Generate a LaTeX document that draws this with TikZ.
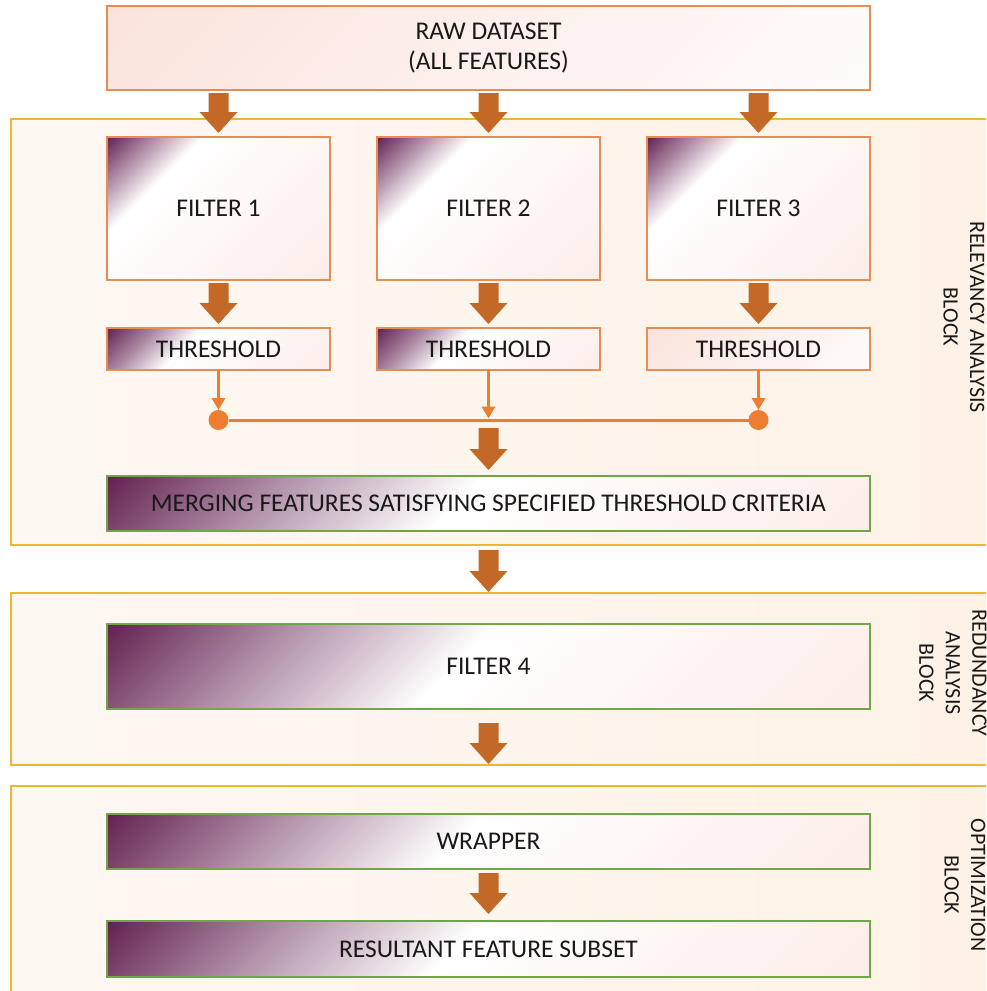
\documentclass[tikz,border=0pt]{standalone}
\usepackage{fontspec}
\setmainfont{Carlito}
\usetikzlibrary{arrows.meta,calc}

\definecolor{plum}{RGB}{100,34,82}
\definecolor{blushstart}{RGB}{251,227,220}
\definecolor{blushend}{RGB}{252,237,233}
\definecolor{edgeorange}{RGB}{232,140,86}
\definecolor{edgegreen}{RGB}{112,165,72}
\definecolor{edgegold}{RGB}{238,183,48}
\definecolor{arrowbrown}{RGB}{196,104,40}
\definecolor{linkorange}{RGB}{237,125,49}
\definecolor{panelleft}{RGB}{254,248,243}
\definecolor{panelright}{RGB}{254,242,230}
\definecolor{inktext}{RGB}{25,25,25}

% Diagonal fills: positions 37.5bp..62.5bp run from the top-left
% corner of a box to its bottom-right corner (see \shadedbox).
\pgfdeclarehorizontalshading{rawfill}{100bp}{color(0bp)=(blushstart); color(37.5bp)=(blushstart); color(62.5bp)=(white!85!blushend); color(100bp)=(white!85!blushend)}
\pgfdeclarehorizontalshading{filterfill}{100bp}{color(0bp)=(plum); color(37.5bp)=(plum); color(40.5bp)=(plum!55!white); color(44bp)=(white); color(62.5bp)=(blushend); color(100bp)=(blushend)}
\pgfdeclarehorizontalshading{thresholdfill}{100bp}{color(0bp)=(plum); color(37.5bp)=(plum); color(42bp)=(plum!55!white); color(46.5bp)=(white); color(62.5bp)=(blushend); color(100bp)=(blushend)}
\pgfdeclarehorizontalshading{stagefill}{100bp}{color(0bp)=(plum); color(37.5bp)=(plum); color(43bp)=(plum!50!white); color(49bp)=(white); color(62.5bp)=(blushend); color(100bp)=(blushend)}

\tikzset{
  boxtext/.style={font=\fontsize{25.5}{30}\selectfont, text=inktext, align=center,
                  inner sep=0pt, outer sep=0pt},
  orangebox/.style={boxtext, draw=edgeorange, line width=1.5pt},
  greenbox/.style={boxtext, draw=edgegreen, line width=1.5pt},
  panel/.style={draw=edgegold, line width=2pt, left color=panelleft,
                right color=panelright, inner sep=0pt, outer sep=0pt},
  sidelabel/.style={font=\fontsize{22}{26.5}\selectfont, text=inktext,
                    align=center, rotate=-90},
  link/.style={draw=linkorange, line width=3pt},
  linkarrow/.style={link, -{Triangle[width=13pt,length=12pt]}},
  joint/.style={circle, fill=linkorange, minimum size=20pt, inner sep=0pt,
                outer sep=0pt},
}

% #1 shading, #2 node style, #3 name, #4-#7 corners x1,y1,x2,y2, #8 text
\newcommand\shadedbox[8]{%
  \pgfmathsetmacro\sbcx{(#4+#6)/2}%
  \pgfmathsetmacro\sbcy{(#5+#7)/2}%
  \pgfmathsetmacro\sbw{#6-#4}%
  \pgfmathsetmacro\sbh{#7-#5}%
  \pgfmathsetmacro\sbhalf{(\sbw+\sbh)/sqrt(2)}%
  \begin{scope}
    \clip (#4,#5) rectangle (#6,#7);
    \shade[shading=#1, shading angle=-45]
      (\sbcx-\sbhalf,\sbcy-\sbhalf) rectangle (\sbcx+\sbhalf,\sbcy+\sbhalf);
  \end{scope}
  \node[#2, minimum width=\sbw pt, minimum height=\sbh pt] (#3) at (\sbcx,\sbcy) {#8};
}

% block arrow: #1 start point, #2 end point, #3 gap below start, #4 gap above end
\newcommand\blockarrow[4]{%
  \fill[arrowbrown]
    ($#1+(-10,#3)$) -- ($#1+(10,#3)$) -- ($#2+(10,-#4-21)$) -- ($#2+(19,-#4-21)$)
    -- ($#2+(0,-#4)$) -- ($#2+(-19,-#4-21)$) -- ($#2+(-10,-#4-21)$) -- cycle;
}

\begin{document}
\begin{tikzpicture}[x=1pt,y=-1pt]
  \useasboundingbox (0,0) rectangle (986,991);
  \fill[white] (0,0) rectangle (986,991);
  \clip (0,0) rectangle (986,991);

  % the three stage panels
  \node[panel, minimum width=992pt, minimum height=426pt] (relevancy) at (507,332) {};
  \node[panel, minimum width=992pt, minimum height=172pt] (redundancy) at (507,679) {};
  \node[panel, minimum width=992pt, minimum height=220pt] (optimization) at (507,896) {};

  \node[sidelabel] (relevancylabel) at (964,317) {RELEVANCY ANALYSIS\\BLOCK};
  \node[sidelabel] (redundancylabel) at (953,673) {REDUNDANCY\\ANALYSIS\\BLOCK};
  \node[sidelabel] (optimizationlabel) at (965,885) {OPTIMIZATION\\BLOCK};

  % boxes
  \shadedbox{rawfill}{orangebox}{raw}{107}{6}{870}{90}{RAW DATASET\\(ALL FEATURES)}
  \shadedbox{filterfill}{orangebox}{f1}{107}{137}{330}{280}{FILTER 1}
  \shadedbox{filterfill}{orangebox}{f2}{377}{137}{600}{280}{FILTER 2}
  \shadedbox{filterfill}{orangebox}{f3}{647}{137}{870}{280}{FILTER 3}
  \shadedbox{thresholdfill}{orangebox}{t1}{107}{328}{330}{370}{THRESHOLD}
  \shadedbox{thresholdfill}{orangebox}{t2}{377}{328}{600}{370}{THRESHOLD}
  \shadedbox{rawfill}{orangebox}{t3}{647}{328}{870}{370}{THRESHOLD}
  \shadedbox{stagefill}{greenbox}{merge}{107}{476}{870}{531}{MERGING FEATURES SATISFYING SPECIFIED THRESHOLD CRITERIA}
  \shadedbox{stagefill}{greenbox}{f4}{107}{624}{870}{709}{FILTER 4}
  \shadedbox{stagefill}{greenbox}{wrapper}{107}{814}{870}{869}{WRAPPER}
  \shadedbox{stagefill}{greenbox}{result}{107}{921}{870}{977}{RESULTANT FEATURE SUBSET}

  % threshold outputs joined on one line
  \node[joint] (j1) at (t1.south |- 0,420) {};
  \node[joint] (j3) at (t3.south |- 0,420) {};
  \coordinate (jm) at (t2.south |- 0,420);
  \draw[link] (j1) -- (j3);
  \draw[linkarrow] (t1.south) -- (j1.north);
  \draw[linkarrow, shorten >=1.5pt] (t2.south) -- (jm);
  \draw[linkarrow] (t3.south) -- (j3.north);

  % block arrows
  \blockarrow{(raw.south -| f1.north)}{(f1.north)}{3}{4}
  \blockarrow{(raw.south -| f2.north)}{(f2.north)}{3}{4}
  \blockarrow{(raw.south -| f3.north)}{(f3.north)}{3}{4}
  \blockarrow{(f1.south)}{(t1.north)}{3}{4}
  \blockarrow{(f2.south)}{(t2.north)}{3}{4}
  \blockarrow{(f3.south)}{(t3.north)}{3}{4}
  \blockarrow{(jm)}{(merge.north)}{8}{6}
  \blockarrow{(relevancy.south -| merge.south)}{(redundancy.north -| merge.south)}{5}{1}
  \blockarrow{(f4.south)}{(redundancy.south -| f4.south)}{14}{1}
  \blockarrow{(wrapper.south)}{(result.north)}{4}{7}
\end{tikzpicture}
\end{document}
